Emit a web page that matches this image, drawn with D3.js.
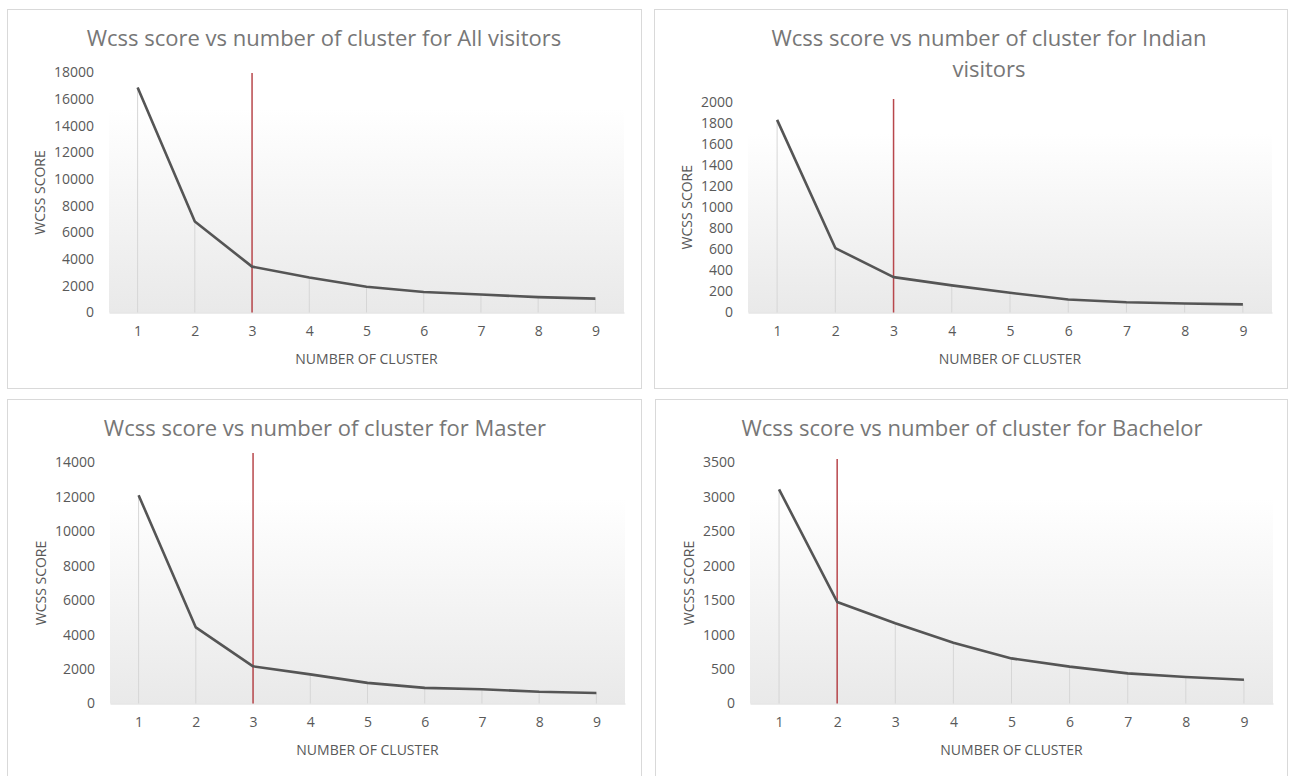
<!DOCTYPE html>
<html>
<head>
<meta charset="utf-8">
<script src="https://cdn.jsdelivr.net/npm/d3@7"></script>
<style>
  html, body { margin: 0; padding: 0; background: #ffffff; }
  svg { display: block; font-family: "Open Sans", "Liberation Sans", sans-serif; }
</style>
</head>
<body>
<svg id="chart" width="1290" height="776"></svg>
<script>
// Elbow-method results: WCSS score for k = 1..9 clusters
const clusters = [1, 2, 3, 4, 5, 6, 7, 8, 9];

const wcssAll      = [16880, 6820, 3440, 2630, 1930, 1540, 1350, 1150, 1040];
const wcssIndian   = [1830, 612, 336, 258, 187, 124, 98, 85, 77];
const wcssMaster   = [12100, 4420, 2160, 1690, 1200, 910, 830, 680, 610];
const wcssBachelor = [3110, 1475, 1165, 882, 655, 535, 438, 385, 345];

const ticksAll      = [0, 2000, 4000, 6000, 8000, 10000, 12000, 14000, 16000, 18000];
const ticksIndian   = [0, 200, 400, 600, 800, 1000, 1200, 1400, 1600, 1800, 2000];
const ticksMaster   = [0, 2000, 4000, 6000, 8000, 10000, 12000, 14000];
const ticksBachelor = [0, 500, 1000, 1500, 2000, 2500, 3000, 3500];

// chosen number of clusters (elbow) for each group
const elbowAll = 3, elbowIndian = 3, elbowMaster = 3, elbowBachelor = 2;

const titleAll      = ["Wcss score vs number of cluster for All visitors"];
const titleIndian   = ["Wcss score vs number of cluster for Indian", "visitors"];
const titleMaster   = ["Wcss score vs number of cluster for Master"];
const titleBachelor = ["Wcss score vs number of cluster for Bachelor"];

const xAxisTitle = "NUMBER OF CLUSTER";
const yAxisTitle = "WCSS SCORE";

// panel frames and plot areas, in page pixels
const panels = [
  { values: wcssAll, ticks: ticksAll, elbow: elbowAll, title: titleAll,
    frame: [7, 9, 634, 379], plot: { left: 109, right: 624, top: 72.5, bottom: 312.5 },
    markerTop: 73, titleX: 324, titleY: 46 },
  { values: wcssIndian, ticks: ticksIndian, elbow: elbowIndian, title: titleIndian,
    frame: [654, 9, 633, 379], plot: { left: 748, right: 1272, top: 102, bottom: 312.5 },
    markerTop: 99, titleX: 989, titleY: 46 },
  { values: wcssMaster, ticks: ticksMaster, elbow: elbowMaster, title: titleMaster,
    frame: [7, 399, 634, 390], plot: { left: 110, right: 625, top: 462.5, bottom: 703.5 },
    markerTop: 453, titleX: 325, titleY: 436 },
  { values: wcssBachelor, ticks: ticksBachelor, elbow: elbowBachelor, title: titleBachelor,
    frame: [655, 399, 632, 390], plot: { left: 750, right: 1273, top: 462.5, bottom: 703.5 },
    markerTop: 459, titleX: 972, titleY: 436 }
];

const svg = d3.select("#chart");

// soft grey plot-area wash, lighter at the top
const defs = svg.append("defs");
const grad = defs.append("linearGradient")
  .attr("id", "plotWash").attr("x1", 0).attr("y1", 0).attr("x2", 0).attr("y2", 1);
grad.append("stop").attr("offset", "0%").attr("stop-color", "#ffffff");
grad.append("stop").attr("offset", "15%").attr("stop-color", "#ffffff");
grad.append("stop").attr("offset", "100%").attr("stop-color", "#e9e9e9");

panels.forEach(p => {
  const g = svg.append("g");
  const [fx, fy, fw, fh] = p.frame;

  g.append("rect")
    .attr("x", fx + 0.5).attr("y", fy + 0.5)
    .attr("width", fw).attr("height", fh)
    .attr("fill", "#ffffff").attr("stroke", "#d9d9d9").attr("stroke-width", 1);

  const x = d3.scalePoint().domain(clusters).range([p.plot.left, p.plot.right]).padding(0.5);
  const yMax = p.ticks[p.ticks.length - 1];
  const y = d3.scaleLinear().domain([0, yMax]).range([p.plot.bottom, p.plot.top]);

  g.append("rect")
    .attr("x", p.plot.left).attr("y", y(yMax))
    .attr("width", p.plot.right - p.plot.left)
    .attr("height", y(0) - y(yMax))
    .attr("fill", "url(#plotWash)");

  // title
  const t = g.append("text")
    .attr("x", p.titleX).attr("y", p.titleY)
    .attr("text-anchor", "middle")
    .attr("fill", "#777777")
    .attr("font-size", 22);
  p.title.forEach((line, i) => {
    t.append("tspan").attr("x", p.titleX).attr("dy", i === 0 ? 0 : 31).text(line);
  });

  // y axis
  const yAxis = g.append("g")
    .attr("transform", `translate(${p.plot.left},0)`)
    .call(d3.axisLeft(y).tickValues(p.ticks).tickSize(0).tickPadding(15).tickFormat(d3.format("d")));
  yAxis.select(".domain").remove();
  yAxis.selectAll("text")
    .attr("fill", "#595959").attr("font-size", 14)
    .attr("font-family", "'Open Sans', sans-serif");

  // x axis with baseline
  const xAxis = g.append("g")
    .attr("transform", `translate(0,${y(0)})`)
    .call(d3.axisBottom(x).tickSize(0).tickSizeOuter(0).tickPadding(14));
  xAxis.select(".domain").attr("stroke", "#d9d9d9").attr("stroke-width", 1.2);
  xAxis.selectAll("text")
    .attr("fill", "#595959").attr("font-size", 14)
    .attr("font-family", "'Open Sans', sans-serif");

  // drop lines from each point to the baseline
  g.append("g").selectAll("line")
    .data(p.values)
    .join("line")
    .attr("x1", (d, i) => x(clusters[i])).attr("x2", (d, i) => x(clusters[i]))
    .attr("y1", d => y(d)).attr("y2", y(0))
    .attr("stroke", "#d6d6d6").attr("stroke-width", 1);

  // elbow marker
  g.append("line")
    .attr("x1", x(p.elbow)).attr("x2", x(p.elbow))
    .attr("y1", p.markerTop).attr("y2", y(0))
    .attr("stroke", "#b8474c").attr("stroke-width", 1.5);

  // WCSS curve
  const line = d3.line()
    .x((d, i) => x(clusters[i]))
    .y(d => y(d));
  g.append("path")
    .datum(p.values)
    .attr("d", line)
    .attr("fill", "none")
    .attr("stroke", "#555555")
    .attr("stroke-width", 2.6)
    .attr("stroke-linejoin", "round")
    .attr("stroke-linecap", "butt");

  // axis titles
  g.append("text")
    .attr("x", (p.plot.left + p.plot.right) / 2)
    .attr("y", y(0) + 47)
    .attr("dy", "0.35em")
    .attr("text-anchor", "middle")
    .attr("fill", "#595959").attr("font-size", 14)
    .text(xAxisTitle);

  let labelLeft = p.plot.left;
  yAxis.selectAll("text").each(function () {
    labelLeft = Math.min(labelLeft, this.getBBox().x + p.plot.left);
  });
  const yc = (y(0) + y(yMax)) / 2;
  g.append("text")
    .attr("transform", `translate(${labelLeft - 14},${yc}) rotate(-90)`)
    .attr("dy", "0.35em")
    .attr("text-anchor", "middle")
    .attr("fill", "#595959").attr("font-size", 14)
    .text(yAxisTitle);
});
</script>
</body>
</html>
